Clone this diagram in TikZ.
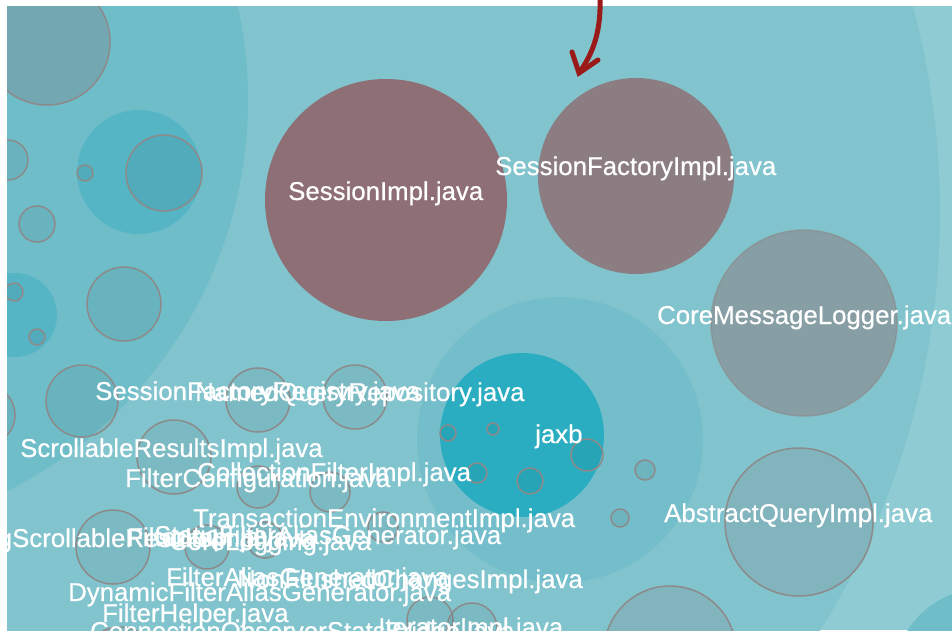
\documentclass[tikz,border=0pt]{standalone}
\usepackage{fontspec}
\setmainfont{Liberation Sans}[FakeBold=0.5]
\usetikzlibrary{arrows.meta}

\definecolor{outerbg}{HTML}{8FCBD3}
\definecolor{mainbg}{HTML}{82C4CD}
\definecolor{pkgleft}{HTML}{6EBDC9}
\definecolor{pkgmid}{HTML}{73BECA}
\definecolor{pkgdeep}{HTML}{56B5C5}
\definecolor{jaxbfill}{HTML}{2AADC0}
\definecolor{hotA}{HTML}{8E6F75}
\definecolor{hotB}{HTML}{8C7D82}
\definecolor{warmA}{HTML}{879EA4}
\definecolor{warmB}{HTML}{82B4BE}
\definecolor{warmC}{HTML}{73A8B2}
\definecolor{ringgray}{HTML}{8C8A8A}
\definecolor{arrowred}{HTML}{9A1A1A}

\tikzset{
  pkg/.style={fill=#1, draw=none},
  filecirc/.style={fill=#1, draw=ringgray, line width=1.5pt},
  leaf/.style={draw=ringgray, line width=1.5pt, fill=black, fill opacity=0.05},
  lbl/.style={text=white, inner sep=0pt, anchor=base west,
              font=\fontsize{25.8}{30}\selectfont},
}

\begin{document}
\begin{tikzpicture}[x=1pt,y=-1pt]
\useasboundingbox (0,0) rectangle (952,630);

\begin{scope}
\clip (7,6) rectangle (952,630);
% outer package and the main package disc
\fill[outerbg] (7,6) rectangle (952,630);
\fill[mainbg] (150,212) circle[radius=790];
% sub-packages
\path[pkg=pkgleft] (-190,100) circle[radius=438];
\path[pkg=pkgleft] (985,680) circle[radius=92];
\path[pkg=pkgmid] (560,440) circle[radius=143];
\path[pkg=jaxbfill] (522,435) circle[radius=82];
\path[pkg=pkgdeep] (139,172) circle[radius=62];
\path[pkg=pkgdeep] (15,315) circle[radius=42];

% large files
\path[pkg=hotA] (386,200) circle[radius=121];
\path[pkg=hotB] (636,176) circle[radius=98];
\path[filecirc=warmA, draw opacity=0.6] (804,323) circle[radius=93];
\path[filecirc=warmB] (799,522) circle[radius=74];
\path[filecirc=warmC] (47,42) circle[radius=63];
\path[filecirc=warmB] (670,652) circle[radius=66];

% small files
\foreach \cx/\cy/\r in {
  164/173/38, 85/173/8, 8/160/20, 37/224/18, 124/304/37, 14/292/9,
  37/337/8, -15/415/30, 82/401/36, 174/457/37, 258/400/32, 355/397/32,
  258/487/21, 330/492/20, 383/527/15, 207/547/22, 113/547/37, 265/540/18,
  430/620/23, 472/628/25, 120/665/38,
  448/433/8, 493/429/6, 477/473/10, 530/481/13, 587/455/16, 645/470/10,
  620/518/9}
  \path[leaf] (\cx,\cy) circle[radius=\r];
\end{scope}

% file names
\node[lbl] (l1) at (288,200) {SessionImpl.java};
\node[lbl] (l2) at (495,175) {SessionFactoryImpl.java};
\node[lbl] (l3) at (657,324) {CoreMessageLogger.java};
\node[lbl] (l4) at (664,522) {AbstractQueryImpl.java};
\node[lbl] (l5) at (535,443) {jaxb};
\node[lbl] (l6) at (95,400) {SessionFactoryRegistry.java};
\node[lbl] (l7) at (195,401) {NamedQueryRepository.java};
\node[lbl] (l8) at (20,457) {ScrollableResultsImpl.java};
\node[lbl] (l9) at (197,481) {CollectionFilterImpl.java};
\node[lbl] (l10) at (125,487) {FilterConfiguration.java};
\node[lbl] (l11) at (193,527) {TransactionEnvironmentImpl.java};
\node[lbl] (l12) at (154,544) {StaticFilterAliasGenerator.java};
\node[lbl] (l13) at (-87,547) {FetchingScrollableResultsImpl.java};
\node[lbl] (l14) at (169,550) {CoreLogging.java};
\node[lbl] (l15) at (127,546) {FilterImpl.java};
\node[lbl] (l16) at (166,586) {FilterAliasGenerator.java};
\node[lbl] (l17) at (237,588) {NonFlushedChangesImpl.java};
\node[lbl] (l18) at (68,601) {DynamicFilterAliasGenerator.java};
\node[lbl] (l19) at (102,622) {FilterHelper.java};
\node[lbl] (l20) at (378,636) {IteratorImpl.java};
\node[lbl] (l21) at (90,640) {ConnectionObserverStatsBridge.java};

% pointer arrow
\coordinate (arrtop) at (600,-2);
\coordinate (arrtip) at (579,73);
\coordinate (barbL) at (572,52);
\coordinate (barbR) at (598,60);
\draw[arrowred, line width=5pt] (arrtop) .. controls (601,30) and (594,52) .. (arrtip);
\draw[arrowred, line width=5pt, line join=miter, line cap=round] (barbL) -- (arrtip) -- (barbR);
\end{tikzpicture}
\end{document}
